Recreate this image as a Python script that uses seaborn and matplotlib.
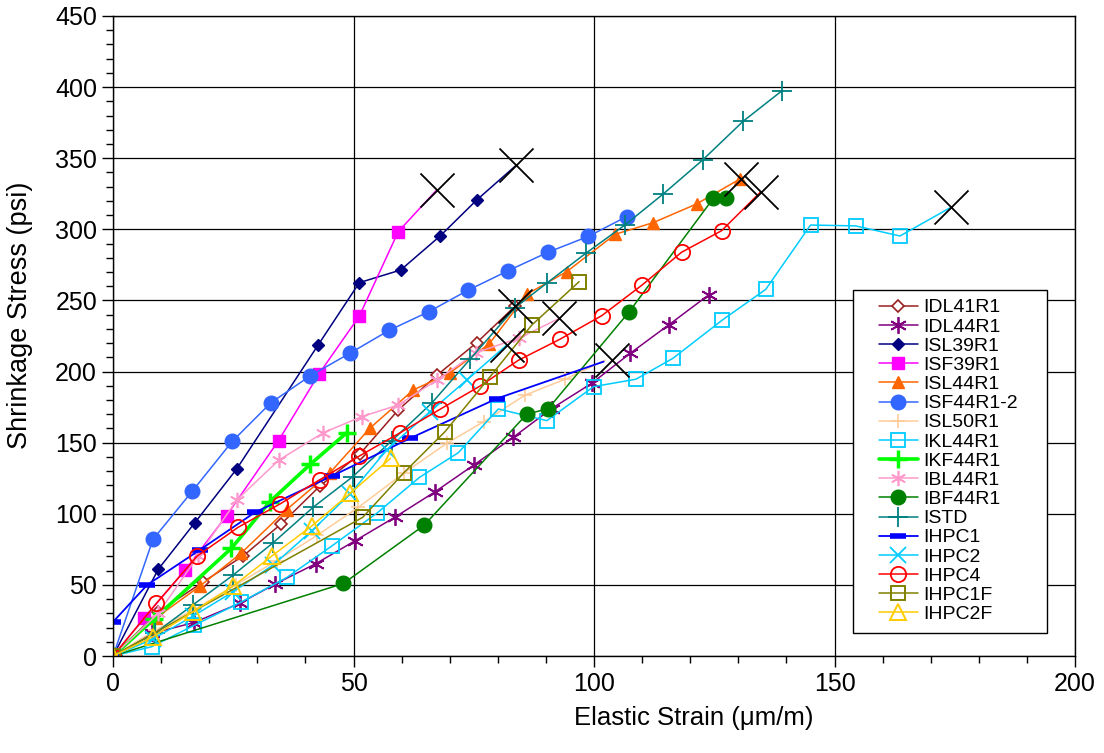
import matplotlib
matplotlib.use("Agg")
import matplotlib.pyplot as plt
import seaborn as sns
import pandas as pd
from matplotlib.ticker import MultipleLocator
from matplotlib.patches import Rectangle

# ---------------- data ----------------
series_names = ["IDL41R1", "IDL44R1", "ISL39R1", "ISF39R1", "ISL44R1", "ISF44R1-2",
                "ISL50R1", "IKL44R1", "IKF44R1", "IBL44R1", "IBF44R1", "ISTD",
                "IHPC1", "IHPC2", "IHPC4", "IHPC1F", "IHPC2F"]

idl41r1_x = [0, 9.4, 18.7, 27.1, 35, 43, 51.3, 59.3, 67.4, 75.6, 83.6]
idl41r1_y = [0, 31, 52, 70.5, 93, 119.5, 142, 173, 197.6, 220.3, 246]

idl44r1_x = [0, 8.2, 16.8, 26.3, 33.7, 42.2, 50.3, 58.6, 67, 75, 83.2, 91.2, 99.5, 107.5, 115.6, 123.8]
idl44r1_y = [0, 16, 23.5, 37, 50.6, 65, 81, 97.6, 115.6, 134.3, 153.8, 174, 191.7, 212.8, 233, 253.8]

isl39r1_x = [0, 9.4, 17, 25.7, 42.7, 51.2, 59.8, 68, 75.6, 83.8]
isl39r1_y = [0, 61, 93.7, 131.5, 219, 262.5, 271.4, 295.3, 320.6, 345]

isf39r1_x = [0, 6.4, 15, 23.6, 34.4, 42.8, 51.2, 59.3, 67.3]
isf39r1_y = [0, 26.5, 60.5, 98.7, 151.4, 198.3, 239, 298.4, 327.7]

isl44r1_x = [0, 9, 18, 26.7, 36.1, 45, 53.5, 62.4, 70, 78.2, 86.1, 94.3, 104.4, 112.3, 121.3, 130.4]
isl44r1_y = [0, 27, 49, 72.5, 103, 128.5, 160.5, 187, 199, 219.5, 254.5, 270.2, 296.5, 304.7, 317.8, 335.5]

isf44r1_2_x = [0, 8.3, 16.5, 24.8, 32.8, 41, 49.3, 57.4, 65.6, 73.7, 82.2, 90.5, 98.8, 106.8]
isf44r1_2_y = [0, 82, 116, 151, 178, 197, 213, 229, 242, 257, 271, 284, 295, 309]

isl50r1_x = [0, 8.7, 17, 25.5, 34, 42.5, 51, 60.4, 69.4, 77.1, 85.7, 94, 102.3]
isl50r1_y = [0, 18, 33, 50, 67, 85, 104.5, 128.5, 149.6, 164.8, 183.5, 194.6, 208]

ikl44r1_x = [0, 8, 16.8, 26.5, 36.2, 45.5, 54.8, 63.7, 71.8, 80.1, 90.2, 99.9, 108.7, 116.4,
             126.7, 135.7, 145, 154.4, 163.6, 174.2]
ikl44r1_y = [0, 6.5, 21.5, 37.7, 55.4, 77.4, 100.3, 125.6, 143, 173.7, 165.5, 189.4, 194.6, 209.3,
             236.3, 257.8, 303, 302.4, 295.3, 315.5]

ikf44r1_x = [0, 8.5, 24.6, 32.6, 41, 48.6]
ikf44r1_y = [0, 26, 75.7, 108.5, 134.8, 157]

ibl44r1_x = [0, 9.4, 17.6, 25.8, 34.5, 43.7, 51.7, 59.3, 67.3, 75.5, 84.3, 92.8]
ibl44r1_y = [0, 30, 70, 110, 137.8, 157, 168.3, 176.5, 194, 213.3, 223.4, 237.4]

ibf44r1_x = [0, 47.9, 64.7, 86, 90.5, 107.3, 124.8, 127.4]
ibf44r1_y = [0, 51, 92, 170, 174, 242, 321.8, 321.8]

istd_x = [0, 8.7, 16.6, 25, 33.3, 41.6, 49.8, 57.9, 66.3, 74.2, 83.6, 90.3, 98.3, 106.4,
          114.4, 122.6, 131, 139.1]
istd_y = [0, 16, 35.9, 57, 79.7, 104.6, 126, 151.2, 178, 208.6, 245, 262.5, 283.2, 303,
          324.9, 348.8, 376, 397.5]

ihpc1_x = [0, 0, 7.1, 18, 29.5, 45.6, 61.7, 79.8, 102]
ihpc1_y = [0, 24, 50, 74.5, 101, 126.7, 153, 181, 207]

ihpc2_x = [0, 8.3, 16.6, 24.9, 33.3, 41.3, 49.3, 56.9, 65.8, 73.5, 81.8]
ihpc2_y = [0, 12, 28, 45, 64, 88, 114, 145, 171.5, 194, 218.5]

ihpc4_x = [0, 9, 17.5, 26, 34.7, 43, 51.2, 59.7, 68, 76.3, 84.3, 92.9, 101.6, 109.9, 118.2, 126.5, 134.7]
ihpc4_y = [0, 37, 70.3, 90.5, 106.9, 124, 140.6, 157, 173.5, 189.8, 208, 222.7, 239.3, 260.6, 283.9, 299, 326.5]

ihpc1f_x = [0, 51.9, 60.5, 69, 78.3, 87, 96.9]
ihpc1f_y = [0, 97.5, 129, 157.7, 196, 232.5, 263.2]

ihpc2f_x = [0, 8.3, 16.6, 24.9, 33, 41.3, 49.3, 57.7]
ihpc2f_y = [0, 13.6, 31, 49, 70.3, 91.4, 114.4, 139]

# failure points (black crosses, not in legend)
fail_x = [67.3, 83.8, 81.8, 83.6, 92.8, 103.7, 130.5, 134.8, 174.2]
fail_y = [327.7, 345, 218.5, 246, 237.4, 208, 335.5, 326.5, 315.5]

x_ticks = [0, 50, 100, 150, 200]
y_ticks = [0, 50, 100, 150, 200, 250, 300, 350, 400, 450]

all_x = [idl41r1_x, idl44r1_x, isl39r1_x, isf39r1_x, isl44r1_x, isf44r1_2_x, isl50r1_x,
         ikl44r1_x, ikf44r1_x, ibl44r1_x, ibf44r1_x, istd_x, ihpc1_x, ihpc2_x, ihpc4_x,
         ihpc1f_x, ihpc2f_x]
all_y = [idl41r1_y, idl44r1_y, isl39r1_y, isf39r1_y, isl44r1_y, isf44r1_2_y, isl50r1_y,
         ikl44r1_y, ikf44r1_y, ibl44r1_y, ibf44r1_y, istd_y, ihpc1_y, ihpc2_y, ihpc4_y,
         ihpc1f_y, ihpc2f_y]

# ---------------- styles ----------------
AST = (6, 2, 0)
styles = {
    "IDL41R1":   dict(color="#9C1F1F", marker="D", ms=6, mfc="white", mew=1.2, lw=1.1, last=True),
    "IDL44R1":   dict(color="#800080", marker=AST, ms=12, mfc="#800080", mew=1.3, lw=1.1, last=True),
    "ISL39R1":   dict(color="#000080", marker="D", ms=6, mfc="#000080", mew=1.0, lw=1.1, last=False),
    "ISF39R1":   dict(color="#FF00FF", marker="s", ms=8, mfc="#FF00FF", mew=1.0, lw=1.1, last=False),
    "ISL44R1":   dict(color="#FF6600", marker="^", ms=9, mfc="#FF6600", mew=1.0, lw=1.1, last=True),
    "ISF44R1-2": dict(color="#3366FF", marker="o", ms=10.5, mfc="#3366FF", mew=1.0, lw=1.1, last=True),
    "ISL50R1":   dict(color="#FFCC99", marker="+", ms=10, mfc="#FFCC99", mew=1.2, lw=1.1, last=False),
    "IKL44R1":   dict(color="#00CCFF", marker="s", ms=10, mfc="none", mew=1.3, lw=1.1, last=False),
    "IKF44R1":   dict(color="#00FF00", marker="+", ms=13, mfc="#00FF00", mew=2.5, lw=2.6, last=True),
    "IBL44R1":   dict(color="#FF99CC", marker=AST, ms=11, mfc="#FF99CC", mew=1.2, lw=1.1, last=False),
    "IBF44R1":   dict(color="#008000", marker="o", ms=10.5, mfc="#008000", mew=1.0, lw=1.1, last=True),
    "ISTD":      dict(color="#008080", marker="+", ms=14, mfc="#008080", mew=1.3, lw=1.1, last=True),
    "IHPC1":     dict(color="#0000FF", marker="_", ms=12, mfc="#0000FF", mew=4, lw=1.3, last=False),
    "IHPC2":     dict(color="#00CCFF", marker="x", ms=11, mfc="#00CCFF", mew=1.3, lw=1.1, last=False),
    "IHPC4":     dict(color="#FF0000", marker="o", ms=11, mfc="none", mew=1.3, lw=1.1, last=False),
    "IHPC1F":    dict(color="#808000", marker="s", ms=10, mfc="none", mew=1.4, lw=1.1, last=True),
    "IHPC2F":    dict(color="#FFCC00", marker="^", ms=11, mfc="none", mew=1.4, lw=1.1, last=True),
}

# ---------------- plotting ----------------
sns.set_theme(style="white")
plt.rcParams["font.family"] = ["Liberation Sans", "DejaVu Sans"]
plt.rcParams["text.color"] = "black"

fig = plt.figure(figsize=(11.04, 7.53), dpi=100)
ax = fig.add_axes([0.1024, 0.1288, 0.8714, 0.8500])

for name, xs, ys in zip(series_names, all_x, all_y):
    st = styles[name]
    n = len(xs)
    me = list(range(n)) if st["last"] else list(range(n - 1))
    df = pd.DataFrame({"x": xs, "y": ys})
    sns.lineplot(data=df, x="x", y="y", ax=ax, sort=False, estimator=None,
                 color=st["color"], lw=st["lw"], marker=st["marker"], ms=st["ms"],
                 mfc=st["mfc"], mec=st["color"], mew=st["mew"], markevery=me,
                 label=name)

fail_df = pd.DataFrame({"x": fail_x, "y": fail_y})
sns.scatterplot(data=fail_df, x="x", y="y", ax=ax, marker="x", s=600, color="black",
                linewidth=1.3, zorder=5, legend=False)

ax.set_xlim(0, 200)
ax.set_ylim(0, 450)
ax.set_xticks(x_ticks)
ax.set_yticks(y_ticks)
ax.xaxis.set_minor_locator(MultipleLocator(10))
ax.yaxis.set_minor_locator(MultipleLocator(10))
ax.grid(True, which="major", color="black", lw=0.9)
ax.set_axisbelow(True)
ax.tick_params(which="major", direction="out", length=8, width=1, colors="black",
               labelsize=18, bottom=True, left=True)
ax.tick_params(which="minor", direction="out", length=5, width=1, colors="black",
               bottom=True, left=True)
for sp in ax.spines.values():
    sp.set_color("black")
    sp.set_linewidth(1)

ax.set_xlabel("Elastic Strain (\u03bcm/m)", fontsize=18.5, color="black")
ax.set_ylabel("Shrinkage Stress (psi)", fontsize=19.5, color="black")
ax.xaxis.set_label_coords(0.604, -0.078)
ax.yaxis.set_label_coords(-0.083, 0.533)

# legend frame drawn as a rectangle, entries placed inside
ax.add_patch(Rectangle((0.7692, 0.0359), 0.9709 - 0.7692, 0.5719 - 0.0359,
                       transform=ax.transAxes, facecolor="white", edgecolor="black",
                       lw=1, zorder=6))
leg = ax.legend(loc="upper left", bbox_to_anchor=(0.7962, 0.558), fontsize=14,
                frameon=False, labelspacing=0.08, handlelength=2.0, handletextpad=0.3,
                borderpad=0, borderaxespad=0)
leg.set_zorder(7)
for t in leg.get_texts():
    t.set_color("black")

fig.savefig("out.png", dpi=100)
